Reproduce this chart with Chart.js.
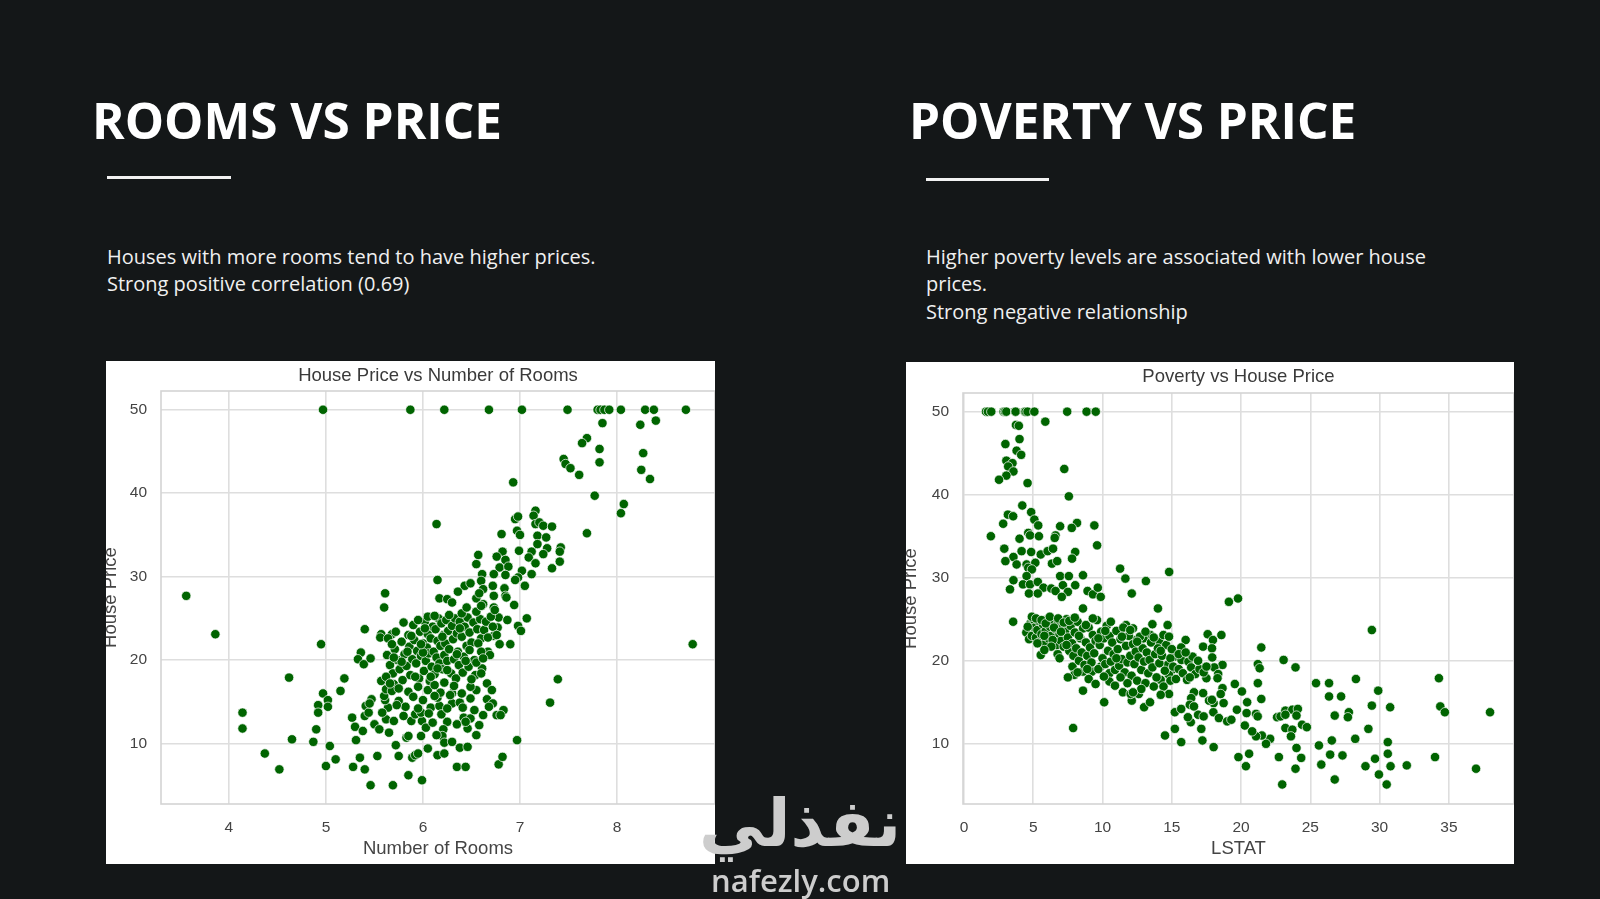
<!DOCTYPE html>
<html><head><meta charset="utf-8">
<script src="https://cdn.jsdelivr.net/npm/chart.js@4.4.1/dist/chart.umd.min.js"></script>
<style>
html,body{margin:0;padding:0;background:#141718;width:1600px;height:899px;overflow:hidden;position:relative;}
.h{position:absolute;font-family:"Open Sans";font-weight:700;color:#fff;font-size:49.5px;line-height:49px;white-space:nowrap;}
.rule{position:absolute;height:3px;background:#f2f2f2;}
.p{position:absolute;font-family:"Open Sans";color:#f0f0f0;font-size:20px;line-height:27.5px;white-space:nowrap;}
.box{position:absolute;background:#fff;overflow:hidden;}
.wm1{position:absolute;font-family:"DejaVu Sans";font-weight:700;color:#cdcdcd;font-size:66px;line-height:66px;white-space:nowrap;direction:rtl;}
.wm2{position:absolute;font-family:"Open Sans";font-weight:600;color:#cdcdcd;font-size:31px;line-height:31px;white-space:nowrap;}
</style></head>
<body>
<div class="h" style="left:92px;top:96px;">ROOMS VS PRICE</div>
<div class="rule" style="left:107px;top:176px;width:124px;"></div>
<div class="p" style="left:107px;top:242.5px;">Houses with more rooms tend to have higher prices.<br>Strong positive correlation (0.69)</div>

<div class="h" style="left:909px;top:96px;">POVERTY VS PRICE</div>
<div class="rule" style="left:926px;top:178px;width:123px;"></div>
<div class="p" style="left:926px;top:242.5px;">Higher poverty levels are associated with lower house<br>prices.<br>Strong negative relationship</div>

<div class="box" style="left:106px;top:361px;width:609px;height:503px;"><canvas id="c1" width="609" height="503"></canvas></div>
<div class="box" style="left:906px;top:362px;width:608px;height:502px;"><canvas id="c2" width="608" height="502"></canvas></div>

<div class="wm1" style="left:699px;top:791px;">نفذلي</div>
<div class="wm2" style="left:711px;top:865px;">nafezly.com</div>

<script>
// ---- Data ----
const roomsTitle = "House Price vs Number of Rooms";
const roomsXLabel = "Number of Rooms";
const priceLabel = "House Price";
const roomsXTicks = [4, 5, 6, 7, 8];
const priceTicks = [10, 20, 30, 40, 50];

// [rooms, price]
const roomsPoints = [
 [4.97,50],[5.87,50],[6.22,50],[6.68,50],[7.02,50],[7.49,50],[7.80,50],[7.83,50],[7.87,50],[7.92,50],[8.04,50],[8.29,50],[8.38,50],[8.71,50],
 [7.85,48.4],[8.24,48.2],[8.40,48.7],[7.69,46.6],[7.64,46.0],[7.82,45.3],[8.27,44.8],[7.45,44.1],[7.47,43.5],[7.52,43.0],[7.82,43.7],[7.61,42.2],[8.25,42.8],[8.34,41.7],[6.93,41.3],[7.77,39.7],[8.07,38.7],[8.04,37.6],[6.14,36.3],[7.69,35.2],
 [7.16,37.9],[7.14,37.3],[6.95,36.9],[6.98,37.2],[7.16,36.3],[7.20,36.5],[7.24,36.1],[7.33,36.0],[6.97,35.5],[7.00,35.0],[6.81,35.1],[7.18,34.9],[7.27,34.7],[7.18,33.9],[7.28,33.4],[7.42,33.5],[7.41,33.0],[6.99,33.1],[7.12,33.0],[7.24,32.7],[7.09,32.3],[6.82,33.0],[6.76,32.4],[6.85,32.0],[6.57,32.6],[7.16,31.6],[7.33,31.0],[7.41,31.8],[6.55,31.5],[6.79,31.1],[6.88,31.2],[7.02,30.7],[7.12,30.3],[6.61,30.3],[6.73,30.3],[6.98,29.9],[6.95,29.6],[6.85,30.2],[7.05,28.9],[6.15,29.6],[6.60,29.5],[6.72,28.9],[6.43,28.9],[6.49,29.2],[6.36,28.2],[6.62,28.5],[6.73,27.7],[6.84,28.6],[6.85,27.7],[5.61,28.0],[3.56,27.7],[6.17,27.4],[6.25,27.3],[6.55,27.4],
 [6.86,27.5],[6.62,26.7],[6.94,26.6],[6.73,26.3],[6.78,25.1],[6.87,24.8],[7.07,25.0],[6.98,24.1],[7.01,23.5],[6.77,23.9],[6.73,22.9],[6.60,22.6],[6.79,21.9],[6.90,21.9],[6.67,21.0],[5.60,26.3],
 [3.86,23.1],[4.95,21.9],[8.78,21.9],[5.40,23.7],[5.57,23.1],[5.56,22.7],[5.68,23.1],[4.62,17.9],[5.19,17.8],[5.15,16.3],[4.97,16.0],[5.02,15.2],[5.02,14.4],[4.92,14.6],[4.92,13.7],[4.14,13.7],[4.14,11.8],[4.90,11.7],[4.65,10.5],[4.87,10.2],[5.04,9.7],[4.37,8.8],[4.52,6.9],[5.10,8.1],[5.00,7.3],[5.35,8.3],[5.28,7.2],[5.40,6.9],[5.46,5.0],[5.69,5.0],[5.99,5.6],[5.85,6.2],[5.53,8.5],[5.75,8.5],[5.89,8.3],[5.92,8.6],[5.95,8.8],[6.15,8.6],[6.35,7.2],[6.44,7.2],[6.38,9.5],[6.46,9.6],[6.78,7.5],[6.82,8.4],[6.97,10.4],[7.31,14.9],[7.39,17.7],
 [5.27,13.1],[5.30,12.0],[5.31,10.4],[5.38,11.5],[5.41,14.5],[5.40,13.3],[5.44,13.7],[5.47,15.3],[5.45,14.8],[5.36,20.9],[5.33,20.1],[5.39,19.5],[5.46,20.2],[5.50,12.3],[5.55,11.7],[5.62,12.9],[5.70,12.7],[5.64,14.3],[5.58,13.7],[5.61,15.2],[5.60,15.7],[5.57,17.5],[5.62,16.5],[5.70,17.1],[5.68,16.3],[5.75,15.1],[5.82,14.4],[5.83,10.7],[5.85,10.9],[5.88,12.7],[5.92,13.5],[5.99,12.7],[5.98,13.7],[6.03,11.9],[6.08,14.3],[6.17,14.5],[6.19,13.5],[6.15,15.5],[6.25,12.6],[6.21,11.7],[6.20,10.9],[6.22,10.1],[6.30,16.0],[6.30,14.8],[6.38,14.9],[6.41,14.3],[6.42,13.1],[6.49,13.0],[6.46,11.8],[6.55,11.0],[6.53,14.0],[6.49,15.4],[6.55,16.4],[6.49,16.8],[6.66,17.2],[6.71,16.4],[6.66,15.3],[6.72,14.8],[6.62,13.4],[6.76,13.4],[6.83,14.0],
 [5.63,20.6],[5.66,19.4],[5.69,18.4],[5.71,21.3],[5.74,20.0],[5.76,18.9],[5.78,22.2],[5.79,17.6],[5.81,20.7],[5.83,19.3],[5.85,23.0],[5.86,21.6],[5.87,18.2],[5.89,20.1],[5.90,24.2],[5.91,22.4],[5.93,19.6],[5.94,21.1],[5.96,17.8],[5.97,23.4],[5.98,20.5],[6.00,22.0],[6.01,18.7],[6.02,24.6],[6.03,19.9],[6.04,21.5],[6.05,23.1],[6.06,20.8],[6.07,17.5],[6.08,22.6],[6.09,19.2],[6.10,24.0],[6.11,21.0],[6.12,18.3],[6.13,23.7],[6.14,20.3],[6.15,22.3],[6.16,25.0],[6.17,19.6],[6.18,21.7],[6.19,24.4],[6.20,18.9],[6.21,23.0],[6.22,20.6],[6.23,22.0],[6.24,24.8],[6.25,19.9],[6.26,23.5],[6.27,21.3],[6.29,18.4],[6.30,24.1],[6.31,22.5],[6.32,20.1],[6.33,25.0],[6.34,17.8],[6.35,23.2],[6.36,21.0],[6.37,19.4],[6.38,24.6],[6.40,22.8],[6.41,18.5],[6.42,20.4],[6.43,24.0],[6.45,21.7],[6.46,25.1],[6.47,19.2],[6.48,23.3],[6.50,22.1],[6.52,24.5],[6.53,20.0],[6.54,18.2],[6.56,23.7],[6.57,22.0],[6.59,24.9],[6.60,21.0],[6.61,19.0],[6.63,23.6],[6.65,24.6],[6.67,22.7],[6.69,20.6],[6.70,25.2],[6.72,24.0],[6.74,26.0],[6.76,23.0],
 [5.95,24.8],[6.05,25.2],[6.12,25.3],[6.27,25.4],[6.40,25.6],[6.55,25.8],[6.60,26.5],[6.45,26.3],[6.30,26.9],[6.58,28.0],
 [5.64,22.6],[5.72,23.4],[5.68,21.9],[5.80,24.5],[5.75,16.6],[5.85,16.2],[5.95,16.8],[6.05,16.4],[6.12,17.0],[6.22,17.3],[6.32,16.9],[6.18,16.1],[5.90,15.6],[6.00,15.2],[5.78,19.8],[5.92,18.0],[6.00,20.9],[6.08,18.0],[6.25,18.8],[6.35,20.7],[6.44,19.9],[6.50,17.7],[6.60,18.4],[6.55,19.7],[6.62,20.2],[6.48,21.2],[6.38,23.8],[6.20,22.8],[5.88,22.9],[5.98,21.9],[6.15,19.0],[6.02,23.8],[5.84,21.0],[5.70,20.3],[5.62,18.0],[5.66,17.2],[6.28,15.8],[6.12,15.7],[6.40,16.0],[5.95,14.2],[6.06,13.6],[6.25,14.2],[6.35,12.3],[6.10,12.5],[5.80,13.3],[5.73,14.6],[5.65,11.3],[5.98,10.9],[6.14,11.0],[6.30,10.2],[6.44,12.6],[6.68,14.4],[6.80,13.4],[5.72,9.8],[6.05,9.4],[6.22,8.8],[6.58,12.2]
];

const lstatTitle = "Poverty vs House Price";
const lstatXLabel = "LSTAT";
const lstatXTicks = [0, 5, 10, 15, 20, 25, 30, 35];

// [LSTAT, price]
const lstatPoints = [
 [1.59,50],[1.73,50],[1.97,50],[2.86,50],[2.96,50],[3.06,50],[3.70,50],[3.73,50],[4.39,50],[4.45,50],[4.59,50],[5.08,50],[7.45,50],[8.85,50],[9.51,50],
 [5.87,48.8],[3.75,48.4],[3.96,48.3],[4.01,46.7],[2.99,46.1],[3.80,45.3],[4.13,44.8],[3.06,44.1],[3.50,43.8],[3.19,43.4],[3.57,42.8],[3.06,42.3],[2.53,41.8],[4.59,41.4],[7.24,43.1],[7.57,39.8],[4.21,38.7],[4.85,37.9],[3.17,37.6],[3.55,37.4],[5.08,37.0],[5.36,36.3],[2.83,36.5],[6.94,36.2],[8.16,36.6],[7.78,36.0],[9.41,36.3],[1.94,35.0],[4.64,35.4],[4.77,35.1],[4.01,34.7],[5.41,35.0],[6.61,35.1],[6.55,34.8],[9.61,33.9],[2.91,33.5],[4.16,33.2],[4.85,33.1],[5.54,32.8],[6.04,33.2],[6.43,33.5],[8.03,33.1],[3.57,32.5],[2.99,32.0],[3.80,31.6],[4.52,31.6],[5.15,31.8],[6.35,31.7],[6.73,32.0],[7.80,32.3],[4.64,31.2],[4.90,31.0],[11.27,31.1],[14.81,30.7],[8.59,30.3],[11.65,29.9],[13.13,29.6],[3.57,29.7],[4.52,30.2],[6.94,30.2],[7.57,30.2],[4.26,29.2],[4.77,29.2],[5.33,29.5],[3.32,28.6],[5.74,28.8],[6.30,28.7],[7.14,29.1],[7.50,28.3],[8.03,29.1],[4.69,28.1],[5.33,28.1],[6.61,28.4],[7.06,27.7],[8.92,28.4],[9.31,28.0],[9.66,28.8],[9.87,27.7],[12.11,28.1],[19.12,27.1],[19.78,27.5],
 [14.00,26.3],[29.44,23.7],[3.55,24.7],[8.59,26.3],[21.46,21.6],[23.07,20.1],[23.93,19.2],[21.21,19.6],[21.34,19.1],[21.21,17.3],[21.46,15.4],[19.55,17.2],[20.06,16.3],[20.44,15.0],[25.41,17.3],[26.35,17.3],[26.35,15.7],[27.22,15.7],[28.29,17.8],[29.90,16.4],[29.44,14.6],[30.76,14.4],[34.28,17.9],[34.38,14.5],[34.71,13.8],[37.97,13.8],[26.76,13.4],[27.78,13.8],[27.71,13.2],[29.19,11.8],[28.24,10.6],[26.55,10.4],[25.62,9.8],[26.43,8.7],[27.32,8.6],[25.79,7.5],[26.76,5.7],[30.59,10.2],[30.59,8.8],[30.79,7.3],[29.67,8.2],[28.98,7.3],[29.95,6.3],[30.51,5.1],[31.96,7.4],[34.00,8.4],[36.96,7.0],[22.97,5.1],[23.93,7.0],[24.34,8.3],[24.00,9.5],[22.73,8.4],[22.10,10.6],[21.80,10.0],[21.50,11.0],[21.08,10.9],[20.80,11.5],[20.27,12.2],[19.81,8.4],[20.58,8.8],[20.35,7.3],[18.02,9.6],[17.21,10.4],[15.68,10.2],[14.51,11.0],[15.22,11.8],[17.13,11.8],[16.37,12.6],[16.16,13.2],[15.22,13.8],[15.68,14.2],[7.88,11.9],[10.12,15.0],[8.59,16.4],[13.00,14.4],[13.43,15.0],[12.11,15.2],[11.47,16.2],[12.03,16.0],[12.62,16.0],
 [22.60,13.2],[22.85,13.3],[23.20,14.0],[23.70,14.1],[24.10,14.2],[23.20,13.5],[24.00,13.4],[23.20,11.9],[23.70,11.7],[23.60,10.9],[24.40,12.3],[24.75,12.0],
 [18.58,23.1],[17.59,23.2],[17.97,22.5],[17.26,21.7],[17.90,21.5],[17.92,20.4],[18.66,19.5],[18.07,19.2],[18.35,18.4],[17.50,17.9],[18.30,17.9],[18.66,16.7],[18.53,16.0],[18.02,14.9],[18.74,14.9],[17.69,15.2],[17.26,16.1],[17.90,15.3],[16.60,16.2],[16.40,15.5],[16.30,14.7],[18.00,13.8],[18.40,13.1],[19.00,12.7],[19.30,12.9],[19.70,14.1],[20.40,13.7],[21.08,13.6],[21.20,13.3],[16.90,13.5],[17.30,13.3],[16.60,14.5],[16.00,22.5],[15.68,21.6],[15.20,20.5],[15.70,20.1],[16.20,19.9],[14.70,19.5],[15.00,18.9],[14.80,18.3],[14.20,17.7],[14.90,17.6],[14.40,16.9],[14.80,16.0],[14.20,15.9],[14.10,22.3],[14.40,23.1],[14.70,24.3],[13.60,24.4],[13.45,23.1],[12.95,22.7],[12.40,22.5],[12.20,23.9],[11.70,24.3],[5.54,20.7],[6.76,20.8],[7.83,19.3],[7.96,18.3],[8.59,18.7],[9.23,18.7],[9.87,19.3],[10.50,18.5],[10.50,17.5],[10.10,18.1],
 [4.5,23.4],[4.7,22.6],[4.8,24.5],[4.9,23.0],[5.0,25.0],[5.1,24.0],[5.2,22.8],[5.3,23.7],[5.4,24.8],[5.5,22.3],[5.6,23.2],[5.7,24.4],[5.8,22.0],[5.9,23.6],[6.0,25.0],[6.1,22.7],[6.2,24.1],[6.3,23.0],[6.4,24.8],[6.5,22.2],[6.6,23.8],[6.7,21.9],[6.8,24.6],[6.9,23.2],[7.0,22.4],[7.1,24.0],[7.2,21.7],[7.3,23.5],[7.4,25.0],[7.5,22.8],[7.6,21.2],[7.7,24.2],[7.8,22.1],[7.9,20.6],[8.0,23.4],[8.1,21.5],[8.2,24.7],[8.3,20.0],[8.4,22.7],[8.5,21.0],[8.6,23.9],[8.7,19.5],[8.8,22.2],[8.9,20.6],[9.0,24.0],[9.1,21.6],[9.2,19.8],[9.3,23.1],[9.4,20.9],[9.5,22.4],[9.6,24.9],[9.7,19.0],[9.8,21.9],[9.9,23.5],[10.0,20.3],[10.1,22.7],[10.2,19.6],[10.3,24.2],[10.4,21.2],[10.5,23.0],[10.6,19.9],[10.7,22.2],[10.8,20.8],[10.9,18.9],[11.0,23.6],[11.1,21.4],[11.2,19.4],[11.3,22.6],[11.4,20.2],[11.5,24.0],[11.6,18.6],[11.7,21.8],[11.8,19.8],[11.9,23.0],[12.0,20.6],[12.1,18.2],[12.2,22.0],[12.3,19.6],[12.4,21.1],[12.5,17.6],[12.6,20.4],[12.7,22.9],[12.8,18.9],[12.9,21.5],[13.0,19.9],[13.1,17.3],[13.2,21.0],[13.3,18.5],[13.4,20.1],[13.5,22.2],[13.6,19.2],[13.7,16.9],[13.8,20.8],[13.9,18.0],[14.0,21.5],[14.1,19.7],[14.3,20.6],[14.5,18.8],[14.6,21.9],[14.9,20.3],[15.1,19.3],[15.3,17.8],[15.5,19.0],[15.8,18.5],[16.1,17.7],[16.4,19.2],[16.7,18.4],[17.0,19.0],[17.3,18.6],[16.5,20.5],[16.9,20.0],[17.5,19.3],
 [4.6,24.1],[4.9,25.3],[5.2,25.1],[5.6,24.9],[5.9,24.5],[6.2,25.3],[6.5,24.0],[6.8,25.1],[7.2,24.6],[7.6,24.8],[8.0,25.2],[5.3,22.1],[5.8,23.0],[6.4,22.5],[7.0,23.5],[7.4,21.9],[8.3,23.0],[8.8,24.3],[9.3,25.1],[9.7,22.7],[10.2,23.6],[10.6,24.7],[11.0,20.3],[11.4,22.9],[12.0,23.7],[12.5,22.3],[13.1,23.5],[13.7,22.8],[14.2,21.2],[14.8,22.9],[15.0,21.4],[15.5,20.8],[16.0,21.0],[16.3,18.0],[9.0,17.8],[9.5,17.2],[10.9,17.0],[11.8,17.3],[12.8,16.6],[8.2,18.6],[7.5,18.0],[6.9,20.3],[6.3,21.7],[5.8,21.3],[11.3,18.0],[12.2,16.2],[8.9,19.0]
];

// ---- Rendering ----
const frame = {
  id: 'frame',
  beforeDatasetsDraw(chart) {
    const {ctx, chartArea: a} = chart;
    ctx.save();
    ctx.strokeStyle = '#d4d4d4';
    ctx.lineWidth = 1.6;
    ctx.strokeRect(a.left, a.top, a.right - a.left, a.bottom - a.top);
    ctx.restore();
  }
};

function makeChart(id, points, title, xLabel, xTicks, xMin, xMax, yAxisW, titleBottomPad) {
  const fontFam = '"Liberation Sans", Arial, sans-serif';
  return new Chart(document.getElementById(id), {
    type: 'scatter',
    data: { datasets: [{
      data: points.map(p => ({x: p[0], y: p[1]})),
      backgroundColor: '#006400',
      borderColor: '#ffffff',
      borderWidth: 0.7,
      pointRadius: 4.7,
      pointHoverRadius: 4.7
    }]},
    options: {
      responsive: false,
      animation: false,
      events: [],
      layout: { padding: 0, autoPadding: false },
      plugins: {
        legend: { display: false },
        tooltip: { enabled: false },
        title: {
          display: true, text: title, fullSize: false,
          color: '#3a3a3a',
          font: { family: fontFam, size: 18.5, weight: 'normal' },
          padding: { top: 3.9, bottom: titleBottomPad }
        }
      },
      scales: {
        x: {
          type: 'linear', min: xMin, max: xMax,
          afterBuildTicks: s => { s.ticks = xTicks.map(v => ({value: v})); },
          afterFit: s => { s.height = 60; s.paddingLeft = 0; s.paddingRight = 0; },
          grid: { color: '#dedede', lineWidth: 1.6, drawTicks: false },
          border: { display: false },
          ticks: { color: '#444', font: { family: fontFam, size: 15.5 }, padding: 14, maxRotation: 0 },
          title: { display: true, text: xLabel, color: '#444', font: { family: fontFam, size: 18.5 }, padding: { top: 0, bottom: 3.5 } }
        },
        y: {
          type: 'linear', min: 2.75, max: 52.25,
          afterBuildTicks: s => { s.ticks = priceTicks.map(v => ({value: v})); },
          afterFit: s => { s.width = yAxisW; s.paddingTop = 0; s.paddingBottom = 0; },
          grid: { color: '#dedede', lineWidth: 1.6, drawTicks: false },
          border: { display: false },
          ticks: { color: '#444', font: { family: fontFam, size: 15.5 }, padding: 14 },
          title: { display: true, text: priceLabel, color: '#444', font: { family: fontFam, size: 18.5 }, padding: { top: -6, bottom: 0 } }
        }
      }
    },
    plugins: [frame]
  });
}

makeChart('c1', roomsPoints, roomsTitle, roomsXLabel, roomsXTicks, 3.30, 9.01, 55, 3.9);
makeChart('c2', lstatPoints, lstatTitle, lstatXLabel, lstatXTicks, -0.07, 39.7, 57, 4.9);
</script>
</body></html>
